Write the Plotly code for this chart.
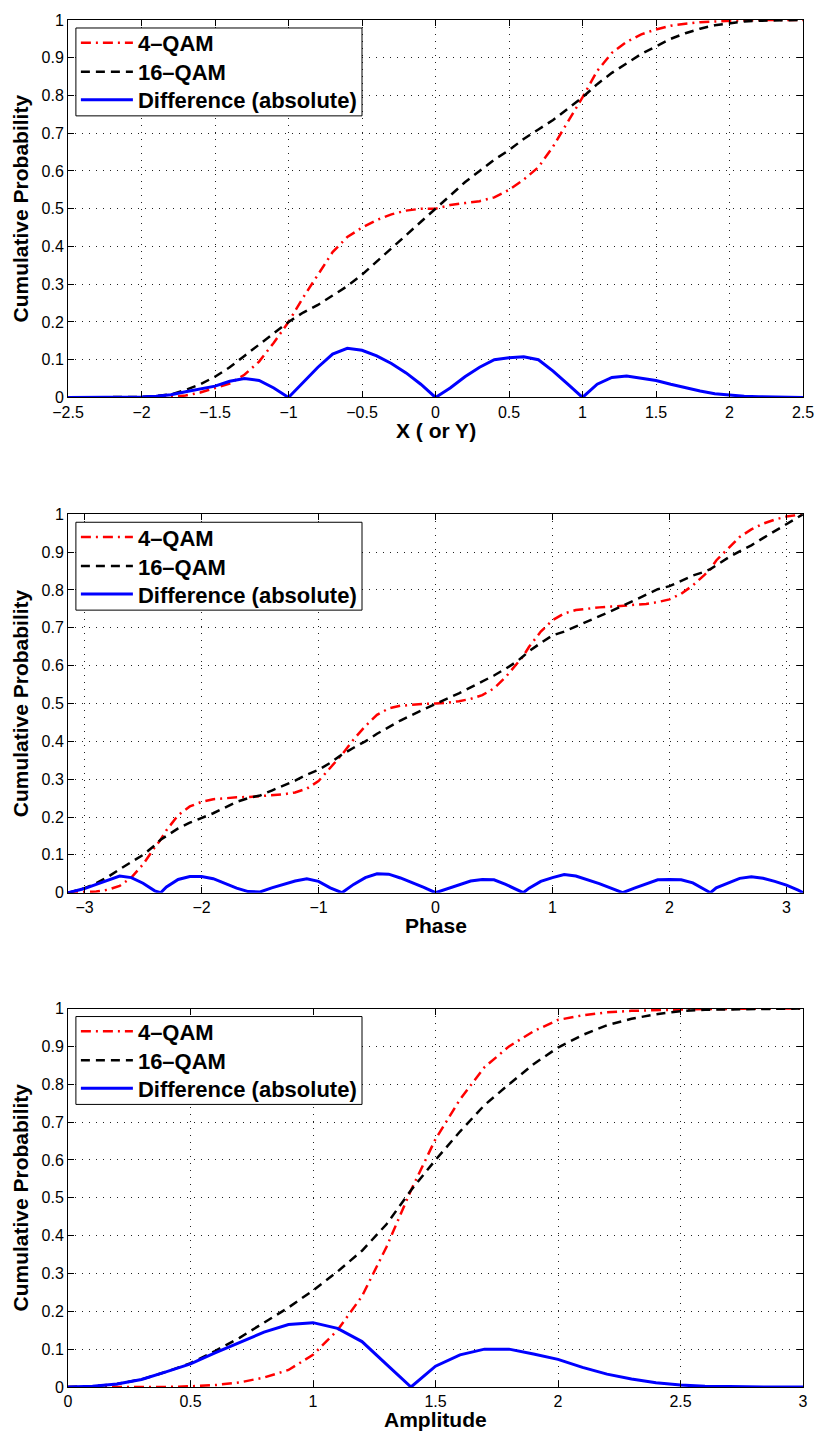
import plotly.graph_objects as go

# ---------------- Data ----------------
# Panel 1: X (or Y)
x1 = [-2.5, -2.4, -2.3, -2.2, -2.1, -2.0, -1.9, -1.8, -1.7, -1.6, -1.5, -1.4, -1.3, -1.2, -1.1, -1.0,
      -0.9, -0.8, -0.7, -0.6, -0.5, -0.4, -0.3, -0.2, -0.1, 0.0,
      0.1, 0.2, 0.3, 0.4, 0.5, 0.6, 0.7, 0.8, 0.9, 1.0,
      1.1, 1.2, 1.3, 1.4, 1.5, 1.6, 1.7, 1.8, 1.9, 2.0, 2.1, 2.2, 2.3, 2.4, 2.5]
qam4_1 = [0, 0, 0, 0, 0, 0.0005, 0.001, 0.001, 0.005, 0.013, 0.025, 0.037, 0.06, 0.095, 0.145, 0.2,
          0.265, 0.325, 0.385, 0.425, 0.45, 0.47, 0.485, 0.495, 0.5, 0.5,
          0.51, 0.515, 0.52, 0.53, 0.55, 0.577, 0.61, 0.665, 0.73, 0.795,
          0.865, 0.913, 0.942, 0.962, 0.975, 0.985, 0.99, 0.994, 0.996, 0.998, 0.999, 1.0, 1.0, 1.0, 1.0]
qam16_1 = [0, 0, 0.0005, 0.001, 0.001, 0.0015, 0.004, 0.008, 0.02, 0.035, 0.055, 0.08, 0.11, 0.14, 0.17, 0.2,
           0.225, 0.245, 0.27, 0.295, 0.325, 0.36, 0.395, 0.43, 0.465, 0.5,
           0.535, 0.57, 0.6, 0.63, 0.655, 0.685, 0.71, 0.735, 0.765, 0.795,
           0.83, 0.86, 0.885, 0.91, 0.93, 0.95, 0.965, 0.977, 0.986, 0.992, 0.996, 0.998, 0.999, 1.0, 1.0]
diff_1 = [0, 0, 0, 0, 0, 0.001, 0.003, 0.007, 0.015, 0.022, 0.03, 0.043, 0.05, 0.045, 0.025, 0.0,
          0.04, 0.08, 0.115, 0.13, 0.125, 0.11, 0.09, 0.065, 0.035, 0.0,
          0.025, 0.055, 0.08, 0.1, 0.105, 0.108, 0.1, 0.07, 0.035, 0.0,
          0.035, 0.053, 0.057, 0.052, 0.045, 0.035, 0.025, 0.017, 0.01, 0.006, 0.003, 0.002, 0.001, 0, 0]

# Panel 2: Phase
x2 = [-3.1416, -3.0, -2.9, -2.8, -2.7, -2.6, -2.5, -2.4, -2.35, -2.3, -2.2, -2.1, -2.0, -1.9, -1.8, -1.7,
      -1.6, -1.5, -1.4, -1.3, -1.2, -1.1, -1.0, -0.9, -0.8, -0.7, -0.6, -0.5, -0.4, -0.3, -0.2, -0.1, 0.0,
      0.1, 0.2, 0.3, 0.4, 0.5, 0.6, 0.7, 0.75, 0.8, 0.9, 1.0, 1.1, 1.2, 1.3, 1.4, 1.5, 1.6,
      1.7, 1.8, 1.9, 2.0, 2.1, 2.2, 2.3, 2.35, 2.4, 2.5, 2.6, 2.7, 2.8, 2.9, 3.0, 3.1, 3.1416]
qam4_2 = [0, 0.001, 0.003, 0.008, 0.018, 0.04, 0.075, 0.12, 0.14, 0.165, 0.205, 0.228, 0.24, 0.247, 0.25, 0.252,
          0.253, 0.255, 0.257, 0.26, 0.265, 0.275, 0.295, 0.33, 0.365, 0.405, 0.44, 0.47, 0.487, 0.494, 0.497, 0.499, 0.5,
          0.502, 0.506, 0.512, 0.522, 0.54, 0.57, 0.605, 0.625, 0.65, 0.69, 0.72, 0.738, 0.747, 0.751, 0.754, 0.756, 0.758,
          0.76, 0.763, 0.768, 0.775, 0.79, 0.812, 0.84, 0.855, 0.878, 0.91, 0.94, 0.96, 0.975, 0.986, 0.994, 0.999, 1.0]
qam16_2 = [0, 0.012, 0.025, 0.042, 0.062, 0.08, 0.1, 0.125, 0.14, 0.15, 0.17, 0.185, 0.197, 0.21, 0.225, 0.24,
           0.25, 0.257, 0.27, 0.283, 0.296, 0.312, 0.325, 0.343, 0.365, 0.383, 0.4, 0.42, 0.438, 0.455, 0.47, 0.485, 0.5,
           0.513, 0.527, 0.543, 0.557, 0.574, 0.592, 0.612, 0.625, 0.638, 0.66, 0.68, 0.69, 0.703, 0.716, 0.73, 0.744, 0.758,
           0.772, 0.787, 0.802, 0.81, 0.824, 0.838, 0.848, 0.855, 0.865, 0.885, 0.902, 0.918, 0.937, 0.956, 0.974, 0.992, 1.0]
diff_2 = [0, 0.011, 0.022, 0.034, 0.044, 0.04, 0.025, 0.005, 0.0, 0.015, 0.035, 0.043, 0.043, 0.037, 0.025, 0.012,
          0.003, 0.002, 0.013, 0.023, 0.031, 0.037, 0.03, 0.013, 0.0, 0.022, 0.04, 0.05, 0.049, 0.039, 0.027, 0.014, 0.0,
          0.011, 0.021, 0.031, 0.035, 0.034, 0.022, 0.007, 0.0, 0.012, 0.03, 0.04, 0.048, 0.044, 0.035, 0.024, 0.012, 0.0,
          0.012, 0.024, 0.034, 0.035, 0.034, 0.026, 0.008, 0.0, 0.013, 0.025, 0.038, 0.042, 0.038, 0.03, 0.02, 0.007, 0.0]

# Panel 3: Amplitude
x3 = [0.0, 0.1, 0.2, 0.3, 0.4, 0.5, 0.6, 0.7, 0.8, 0.9, 1.0, 1.1, 1.2, 1.3, 1.4,
      1.5, 1.6, 1.7, 1.8, 1.9, 2.0, 2.1, 2.2, 2.3, 2.4, 2.5, 2.6, 2.7, 2.8, 2.9, 3.0]
qam4_3 = [0, 0, 0, 0, 0, 0.002, 0.005, 0.012, 0.025, 0.045, 0.085, 0.15, 0.24, 0.37, 0.52,
          0.655, 0.76, 0.845, 0.9, 0.94, 0.97, 0.982, 0.99, 0.994, 0.996, 0.998, 0.999, 0.999, 1.0, 1.0, 1.0]
qam16_3 = [0, 0.002, 0.008, 0.02, 0.04, 0.063, 0.095, 0.13, 0.17, 0.21, 0.255, 0.305, 0.36, 0.43, 0.52,
           0.6, 0.675, 0.745, 0.8, 0.853, 0.897, 0.93, 0.956, 0.973, 0.985, 0.993, 0.997, 0.998, 0.999, 1.0, 1.0]
diff_3 = [0, 0.002, 0.008, 0.02, 0.04, 0.061, 0.09, 0.118, 0.145, 0.165, 0.17, 0.155, 0.12, 0.06, 0.0,
          0.055, 0.085, 0.1, 0.1, 0.087, 0.073, 0.052, 0.034, 0.021, 0.011, 0.005, 0.002, 0.001, 0.0, 0.0, 0.0]

series_names = ["4\u2013QAM", "16\u2013QAM", "Difference (absolute)"]
x_titles = ["X ( or Y)", "Phase", "Amplitude"]
y_title = "Cumulative Probability"
x_ticks = [[-2.5, -2, -1.5, -1, -0.5, 0, 0.5, 1, 1.5, 2, 2.5],
           [-3, -2, -1, 0, 1, 2, 3],
           [0, 0.5, 1, 1.5, 2, 2.5, 3]]
x_ranges = [[-2.5, 2.5], [-3.14159265, 3.14159265], [0, 3]]
y_ticks = [0, 0.1, 0.2, 0.3, 0.4, 0.5, 0.6, 0.7, 0.8, 0.9, 1]

panels = [(x1, qam4_1, qam16_1, diff_1), (x2, qam4_2, qam16_2, diff_2), (x3, qam4_3, qam16_3, diff_3)]

# ---------------- Layout geometry ----------------
W, H = 826, 1437
ml, mr, mt, mb = 68, 13, 18, 50
plot_w = W - ml - mr
plot_h = H - mt - mb
tops_px = [18, 513, 1008]
bots_px = [396, 892, 1387]
LEG_LEFT, LEG_RIGHT = 76, 366      # legend box, px
LEG_TOP_OFF, LEG_BOT_OFF = 8, 96   # below the panel top, px
ROW_OFF = [23, 52, 80]             # legend row centres below the panel top, px
XTITLE_OFF = 33                    # x-title centre below the panel bottom, px


def fy(px):
    return (H - mb - px) / plot_h


def fx(px):
    return (px - ml) / plot_w


fig = go.Figure()
FONT = "Liberation Sans, Arial, Helvetica, sans-serif"
styles = [dict(color="#ff0000", width=2.5, dash="10px,5px,2px,5px"),
          dict(color="#000000", width=2.5, dash="9px,6px"),
          dict(color="#0000ff", width=3)]

layout = dict(
    width=W, height=H,
    margin=dict(l=ml, r=mr, t=mt, b=mb),
    paper_bgcolor="white", plot_bgcolor="white",
    font=dict(family=FONT, color="black", size=16),
    showlegend=True,
)

shapes, annotations = [], []
leg_idx = 0
for i, (xs, a, b, d) in enumerate(panels):
    n = "" if i == 0 else str(i + 1)
    for k, ys in enumerate((a, b, d)):
        leg_idx += 1
        leg = "legend" if leg_idx == 1 else f"legend{leg_idx}"
        fig.add_trace(go.Scatter(x=xs, y=ys, mode="lines", name=series_names[k],
                                 line=styles[k], xaxis="x" + n, yaxis="y" + n, legend=leg))
        layout[leg] = dict(
            x=fx(LEG_LEFT), y=fy(tops_px[i] + ROW_OFF[k]), xanchor="left", yanchor="middle",
            bgcolor="rgba(0,0,0,0)", borderwidth=0,
            font=dict(size=22, family=FONT, weight="bold", color="black"),
            itemwidth=52,
        )
    # legend frame
    shapes.append(dict(type="rect", xref="paper", yref="paper", layer="above",
                       x0=fx(LEG_LEFT), x1=fx(LEG_RIGHT),
                       y0=fy(tops_px[i] + LEG_BOT_OFF), y1=fy(tops_px[i] + LEG_TOP_OFF),
                       line=dict(color="black", width=1), fillcolor="white"))
    # x-axis title
    annotations.append(dict(text=x_titles[i], xref="paper", yref="paper", x=0.5,
                            y=fy(bots_px[i] + XTITLE_OFF), xanchor="center", yanchor="middle",
                            showarrow=False, font=dict(size=21, family=FONT, weight="bold")))

axis_common = dict(
    showline=True, linecolor="black", linewidth=1, mirror="ticks",
    ticks="inside", ticklen=6, tickcolor="black", tickwidth=1,
    showgrid=True, gridcolor="#222222", gridwidth=1, griddash="1px,6px",
    zeroline=False, tickfont=dict(size=16, family=FONT),
)

for i in range(3):
    n = "" if i == 0 else str(i + 1)
    dom = [fy(bots_px[i]), fy(tops_px[i])]
    layout["xaxis" + n] = dict(axis_common, domain=[0, 1], range=x_ranges[i],
                               tickvals=x_ticks[i], anchor="y" + n)
    layout["yaxis" + n] = dict(axis_common, domain=dom, range=[0, 1], tickvals=y_ticks,
                               anchor="x" + n,
                               title=dict(text=y_title, standoff=7,
                                          font=dict(size=21, family=FONT, weight="bold")))

layout["shapes"] = shapes
layout["annotations"] = annotations
fig.update_layout(**layout)
fig.write_html("out.html")
